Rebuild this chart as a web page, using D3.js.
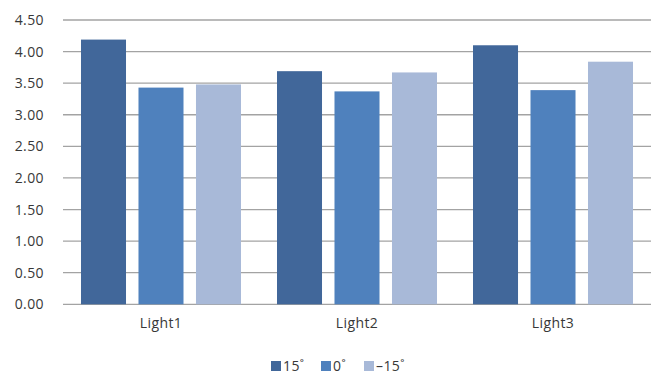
<!DOCTYPE html>
<html>
<head>
<meta charset="utf-8">
<script src="https://cdn.jsdelivr.net/npm/d3@7/dist/d3.min.js"></script>
<style>
  html, body { margin: 0; padding: 0; background: #fff; }
  svg { display: block; font-family: "Open Sans", "Noto Sans", sans-serif; }
</style>
</head>
<body>
<svg id="chart" width="652" height="376"></svg>
<script>
// Chart data
const categories = ["Light1", "Light2", "Light3"];
const seriesNames = ["15˚", "0˚", "–15˚"];
const series15 = [4.19, 3.69, 4.10];
const series0 = [3.43, 3.37, 3.39];
const seriesMinus15 = [3.48, 3.67, 3.84];
const yTicks = [0, 0.5, 1, 1.5, 2, 2.5, 3, 3.5, 4, 4.5];
const colors = ["#41679a", "#4f81bd", "#a8b9d8"];

const seriesValues = [series15, series0, seriesMinus15];

const svg = d3.select("#chart");
const margin = { left: 63, right: 1, top: 20, bottom: 72 };
const width = 652, height = 376;
const plotBottom = 304.3;
const fontSize = 14;
const textColor = "#383838";

const x = d3.scaleBand()
  .domain(categories)
  .range([margin.left, width - margin.right])
  .paddingInner(0.1837)
  .paddingOuter(0.0918);

const xInner = d3.scaleBand()
  .domain(d3.range(seriesNames.length))
  .range([0, x.bandwidth()])
  .paddingInner(0.217)
  .paddingOuter(0);

const y = d3.scaleLinear()
  .domain([0, 4.5])
  .range([plotBottom, margin.top]);

// Horizontal gridlines
svg.append("g")
  .selectAll("line")
  .data(yTicks)
  .join("line")
  .attr("x1", margin.left)
  .attr("x2", width - margin.right)
  .attr("y1", d => y(d))
  .attr("y2", d => y(d))
  .attr("stroke", "#a3a3a3")
  .attr("stroke-width", 1.3);

// Y axis labels
const yAxis = d3.axisLeft(y)
  .tickValues(yTicks)
  .tickFormat(d3.format(".2f"))
  .tickSize(0)
  .tickPadding(0);

svg.append("g")
  .attr("transform", `translate(44,0)`)
  .call(yAxis)
  .call(g => g.select(".domain").remove())
  .call(g => g.selectAll("text")
    .attr("font-size", fontSize)
    .attr("letter-spacing", 0.4)
    .attr("font-family", "\"Open Sans\", \"Noto Sans\", sans-serif")
    .attr("fill", textColor));

// Bars
const groups = svg.append("g")
  .selectAll("g")
  .data(categories)
  .join("g")
  .attr("transform", d => `translate(${x(d)},0)`);

groups.selectAll("rect")
  .data((c, ci) => seriesValues.map((vals, si) => ({ si, v: vals[ci] })))
  .join("rect")
  .attr("x", d => xInner(d.si))
  .attr("width", xInner.bandwidth())
  .attr("y", d => y(d.v))
  .attr("height", d => plotBottom - y(d.v))
  .attr("fill", d => colors[d.si]);

// X axis labels
const xAxis = d3.axisBottom(x).tickSize(0).tickPadding(0);
svg.append("g")
  .attr("transform", `translate(0,${plotBottom + 14})`)
  .call(xAxis)
  .call(g => g.select(".domain").remove())
  .call(g => g.selectAll("text")
    .attr("font-size", fontSize)
    .attr("letter-spacing", 0.4)
    .attr("font-family", "\"Open Sans\", \"Noto Sans\", sans-serif")
    .attr("fill", textColor));

// Legend
const legendX = [271, 321, 364];
const legend = svg.append("g")
  .selectAll("g")
  .data(seriesNames)
  .join("g")
  .attr("transform", (d, i) => `translate(${legendX[i]},361)`);

legend.append("rect")
  .attr("width", 10)
  .attr("height", 10)
  .attr("fill", (d, i) => colors[i]);

legend.append("text")
  .attr("x", 12)
  .attr("y", 10)
  .attr("font-size", fontSize)
  .attr("letter-spacing", 0.4)
  .attr("fill", textColor)
  .text(d => d);
</script>
</body>
</html>
